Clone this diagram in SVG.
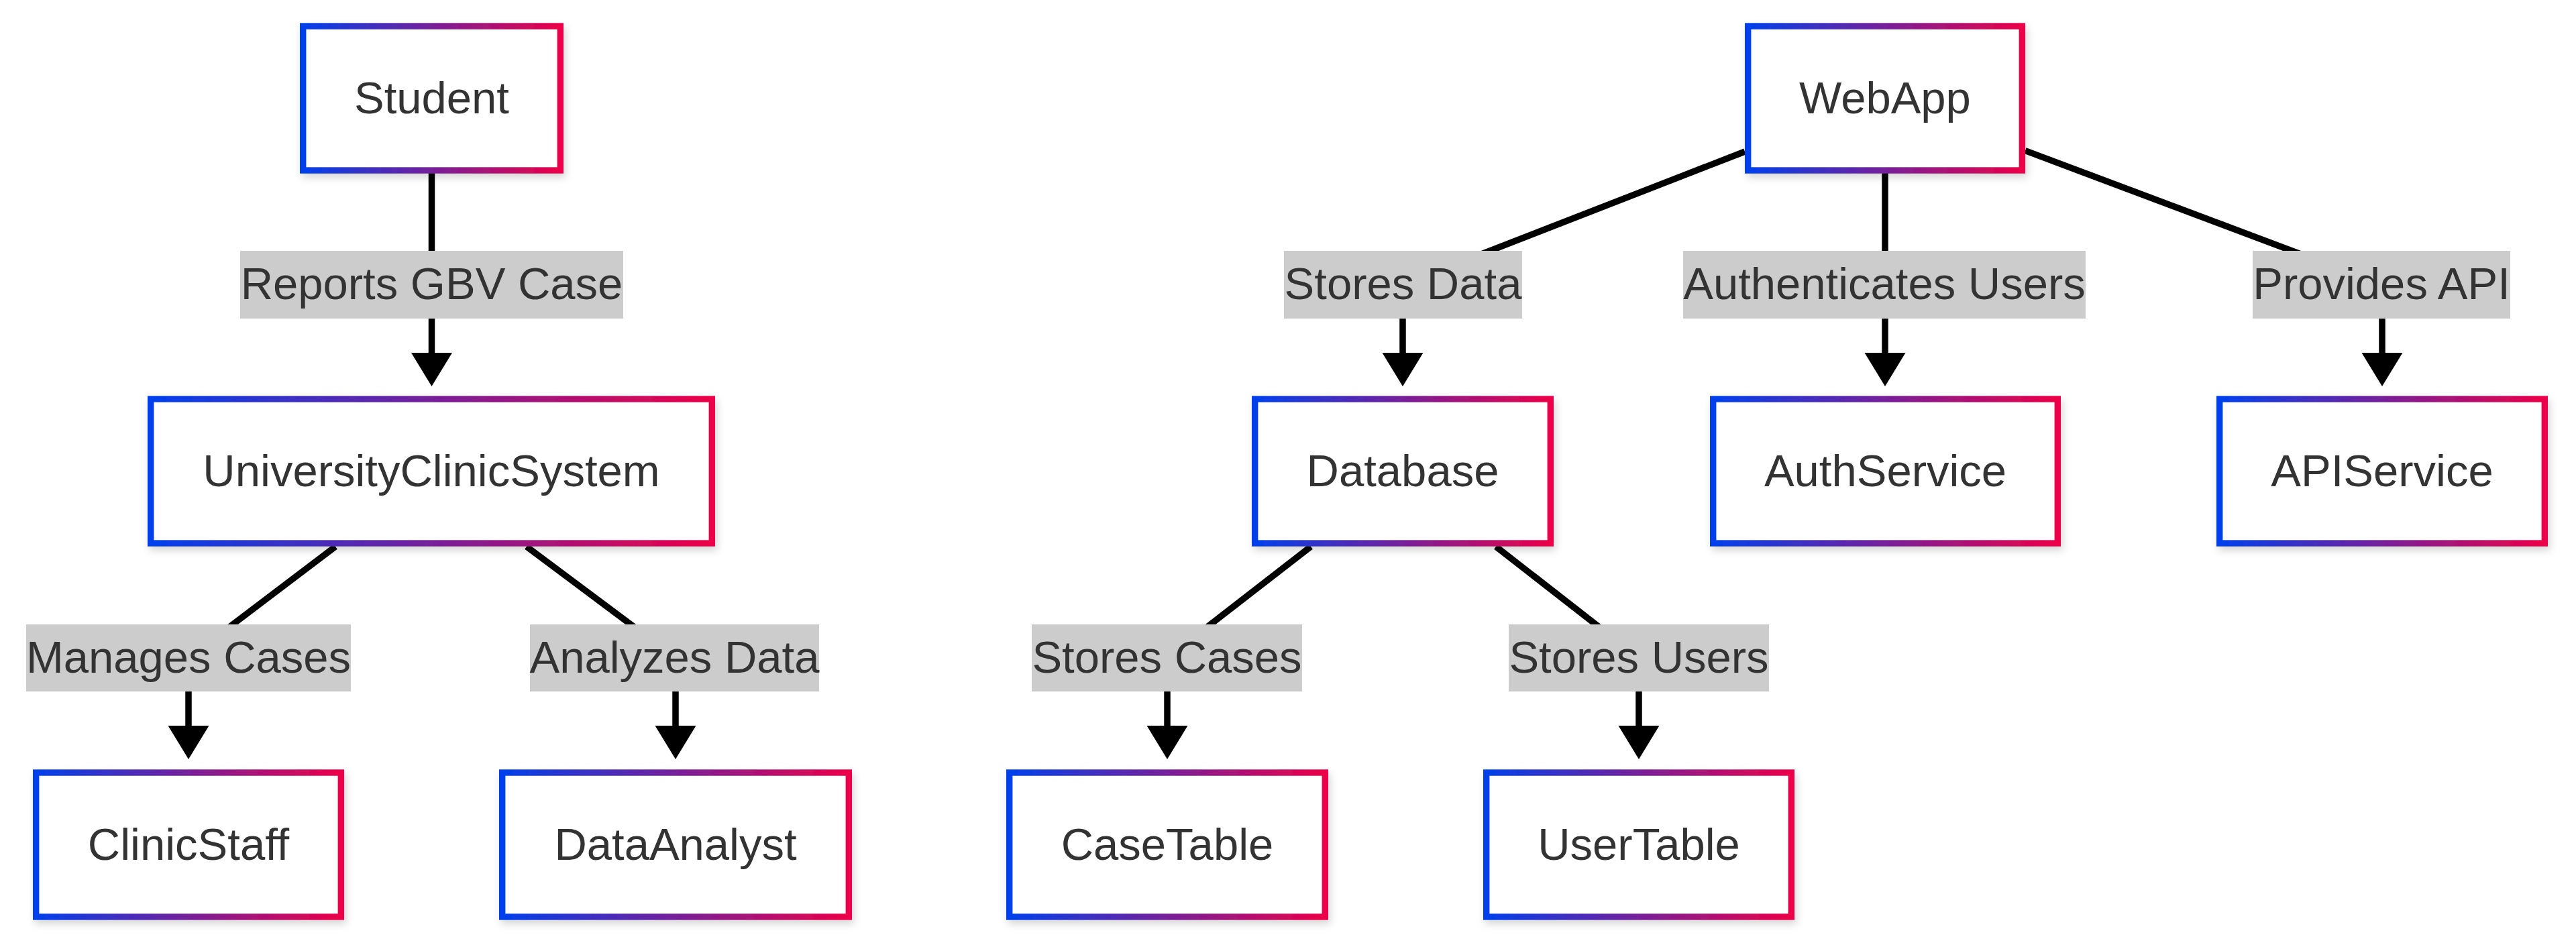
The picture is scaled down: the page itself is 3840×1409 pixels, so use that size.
<svg xmlns="http://www.w3.org/2000/svg" width="3840" height="1409" viewBox="0 0 3840 1409">
  <defs>
    <linearGradient id="grad" x1="0" y1="0" x2="1" y2="0">
      <stop offset="0" stop-color="#0040ec"/>
      <stop offset="1" stop-color="#ec0048"/>
    </linearGradient>
    <filter id="shadow" x="-10%" y="-10%" width="120%" height="130%">
      <feDropShadow dx="3" dy="6" stdDeviation="6" flood-color="#000" flood-opacity="0.16"/>
    </filter>
    <marker id="arrow" markerUnits="userSpaceOnUse" markerWidth="52" markerHeight="62" refX="1" refY="30.5" orient="auto" viewBox="0 0 52 62">
      <path d="M0,0 L50,30.5 L0,61 Z" fill="#000"/>
    </marker>
    <style>
      .node rect { fill: #fff; stroke: url(#grad); stroke-width: 9.4; filter: url(#shadow); }
      .node text, .label text { font-family: "Liberation Sans", Arial, sans-serif; font-size: 67px; fill: #333; text-anchor: middle; }
      .edge { fill: none; stroke: #000; stroke-width: 9.5; marker-end: url(#arrow); }
      .label rect { fill: #cccccc; }
    </style>
  </defs>
  <rect x="0" y="0" width="3840" height="1409" fill="#fff"/>

  <g id="connectors">
    <path class="edge" d="M643.5,258 L643.5,527"/>
    <path class="edge" d="M500,815 L281,981 L281,1083"/>
    <path class="edge" d="M785,815 L1007,981 L1007,1083"/>
    <path class="edge" d="M2601,226 L2091,424.5 L2091,527"/>
    <path class="edge" d="M2810,258 L2810,527"/>
    <path class="edge" d="M3019,224.6 L3551,424.5 L3551,527"/>
    <path class="edge" d="M1954,815 L1740,981 L1740,1083"/>
    <path class="edge" d="M2230,815 L2443,981 L2443,1083"/>
  </g>

  <g id="edge-labels">
    <g class="label" id="label-reports"><rect x="358" y="374" width="571" height="101"/><text x="643.5" y="446">Reports GBV Case</text></g>
    <g class="label" id="label-manages"><rect x="39" y="931" width="484" height="100"/><text x="281" y="1003">Manages Cases</text></g>
    <g class="label" id="label-analyzes"><rect x="790" y="931" width="431" height="100"/><text x="1005.5" y="1003">Analyzes Data</text></g>
    <g class="label" id="label-storesdata"><rect x="1914" y="374" width="355" height="101"/><text x="2091.5" y="446">Stores Data</text></g>
    <g class="label" id="label-auth"><rect x="2509" y="374" width="600" height="101"/><text x="2809" y="446">Authenticates Users</text></g>
    <g class="label" id="label-api"><rect x="3358" y="374" width="384" height="101"/><text x="3550" y="446">Provides API</text></g>
    <g class="label" id="label-storescases"><rect x="1538" y="931" width="403" height="100"/><text x="1739.5" y="1003">Stores Cases</text></g>
    <g class="label" id="label-storesusers"><rect x="2249" y="931" width="388" height="100"/><text x="2443" y="1003">Stores Users</text></g>
  </g>

  <g class="node" id="Student"><rect x="451.7" y="39" width="383.6" height="215"/><text x="643.5" y="168.5">Student</text></g>
  <g class="node" id="UniversityClinicSystem"><rect x="224.7" y="595" width="836.6" height="215"/><text x="643" y="724.5">UniversityClinicSystem</text></g>
  <g class="node" id="ClinicStaff"><rect x="53.7" y="1152" width="454.6" height="215"/><text x="281" y="1281.5">ClinicStaff</text></g>
  <g class="node" id="DataAnalyst"><rect x="748.7" y="1152" width="516.6" height="215"/><text x="1007" y="1281.5">DataAnalyst</text></g>
  <g class="node" id="WebApp"><rect x="2605.7" y="39" width="408.6" height="215"/><text x="2810" y="168.5">WebApp</text></g>
  <g class="node" id="Database"><rect x="1870.7" y="595" width="440.6" height="215"/><text x="2091" y="724.5">Database</text></g>
  <g class="node" id="AuthService"><rect x="2553.7" y="595" width="513.6" height="215"/><text x="2810.5" y="724.5">AuthService</text></g>
  <g class="node" id="APIService"><rect x="3308.7" y="595" width="484.6" height="215"/><text x="3551" y="724.5">APIService</text></g>
  <g class="node" id="CaseTable"><rect x="1504.7" y="1152" width="470.6" height="215"/><text x="1740" y="1281.5">CaseTable</text></g>
  <g class="node" id="UserTable"><rect x="2215.7" y="1152" width="454.6" height="215"/><text x="2443" y="1281.5">UserTable</text></g>
</svg>
